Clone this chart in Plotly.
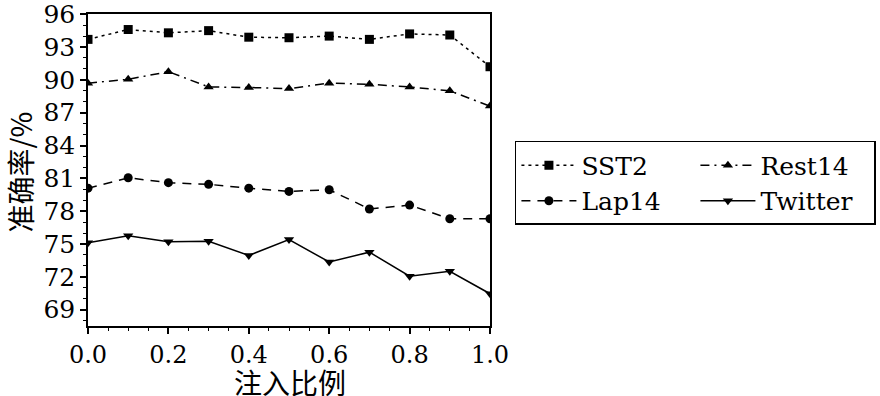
import plotly.graph_objects as go

x_vals = [0.0, 0.1, 0.2, 0.3, 0.4, 0.5, 0.6, 0.7, 0.8, 0.9, 1.0]
sst2 = [93.7, 94.6, 94.3, 94.5, 93.9, 93.85, 94.0, 93.7, 94.2, 94.1, 91.2]
rest14 = [89.7, 90.05, 90.75, 89.35, 89.3, 89.2, 89.7, 89.6, 89.35, 89.0, 87.6]
lap14 = [80.1, 81.05, 80.6, 80.45, 80.1, 79.8, 79.95, 78.2, 78.55, 77.3, 77.3]
twitter = [75.1, 75.75, 75.2, 75.25, 73.95, 75.4, 73.35, 74.25, 72.05, 72.5, 70.45]

y_ticks = [69, 72, 75, 78, 81, 84, 87, 90, 93, 96]
x_ticks = [0.0, 0.2, 0.4, 0.6, 0.8, 1.0]
x_labels = ["0.0", "0.2", "0.4", "0.6", "0.8", "1.0"]
x_title = "注入比例"
y_title = "准确率/%"

series = [
    ("SST2", sst2, "square", "3px,4px"),
    ("Rest14", rest14, "triangle-up", "9px,5px,2px,5px"),
    ("Lap14", lap14, "circle", "9px,7px"),
    ("Twitter", twitter, "triangle-down", "solid"),
]

serif = "DejaVu Serif, serif"
cjk = "Noto Sans CJK SC"

fig = go.Figure()
for name, vals, sym, dash in series:
    fig.add_trace(go.Scatter(
        x=x_vals, y=vals, name=name, mode="lines+markers",
        line=dict(color="black", width=1.5, dash=dash),
        marker=dict(symbol=sym, size=9, color="black"),
    ))

fig.update_layout(
    width=880, height=396,
    margin=dict(l=88, r=390, t=14, b=70, autoexpand=False),
    paper_bgcolor="white", plot_bgcolor="white",
    font=dict(family=serif, color="black", size=24),
    showlegend=True,
    legend=dict(
        orientation="h", x=1.062, xanchor="left", y=0.593, yanchor="top",
        bordercolor="black", borderwidth=1.5, bgcolor="white",
        entrywidth=109, entrywidthmode="pixels",
        font=dict(family=serif, size=25, color="black"),
        itemwidth=55, tracegroupgap=0,
    ),
    xaxis=dict(
        range=[0, 1.0], tickvals=x_ticks, ticktext=x_labels, automargin=False,
        showgrid=False, zeroline=False,
        showline=True, linecolor="black", linewidth=1.5, mirror=True,
        ticks="outside", ticklen=6, tickwidth=1.5, tickcolor="black",
        minor=dict(dtick=0.05, tick0=0, ticks="outside", ticklen=3, tickwidth=1.2, tickcolor="black"),
        tickfont=dict(family=serif, size=24), ticklabeloverflow="allow",
    ),
    yaxis=dict(
        range=[67.5, 96.02], tickvals=y_ticks, automargin=False,
        showgrid=False, zeroline=False,
        showline=True, linecolor="black", linewidth=1.5, mirror=True,
        ticks="outside", ticklen=6, tickwidth=1.5, tickcolor="black",
        minor=dict(dtick=1, tick0=69, ticks="outside", ticklen=3, tickwidth=1.2, tickcolor="black"),
        tickfont=dict(family=serif, size=25), ticklabeloverflow="allow",
    ),
    annotations=[
        dict(text=x_title, xref="paper", yref="paper", x=0.5025, y=-0.178,
             xanchor="center", yanchor="middle", showarrow=False,
             font=dict(family=cjk, size=28, color="black")),
        dict(text=y_title, xref="paper", yref="paper", x=-0.17, y=0.494,
             xanchor="center", yanchor="middle", showarrow=False, textangle=-90,
             font=dict(family=cjk, size=28, color="black")),
    ],
)

fig.write_html(
    "out.html",
    config={"displayModeBar": False},
    post_script="document.body.style.margin='0';document.body.style.overflow='hidden';",
)
